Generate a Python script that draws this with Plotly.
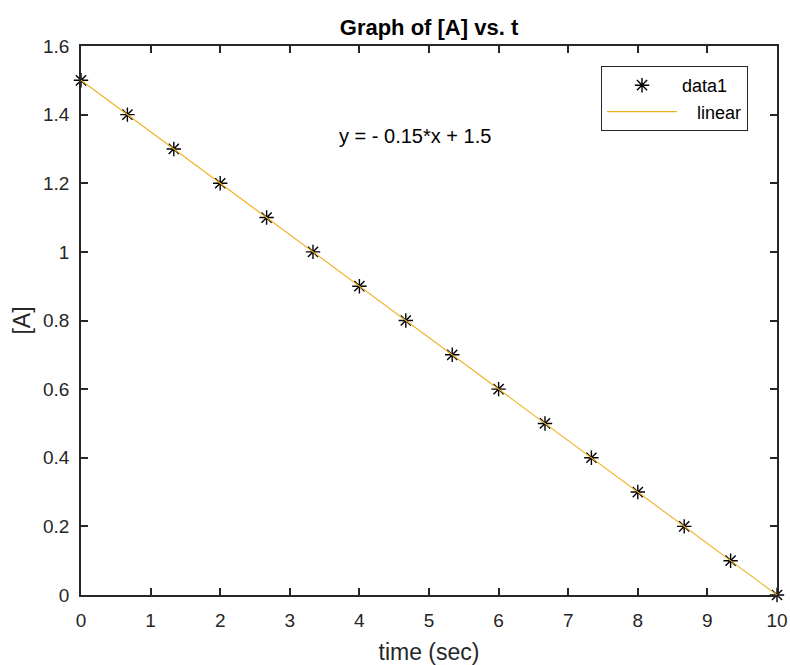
import plotly.graph_objects as go

time_sec = [0, 0.6667, 1.3333, 2, 2.6667, 3.3333, 4, 4.6667, 5.3333, 6,
            6.6667, 7.3333, 8, 8.6667, 9.3333, 10]
conc_A = [1.5, 1.4, 1.3, 1.2, 1.1, 1.0, 0.9, 0.8, 0.7, 0.6,
          0.5, 0.4, 0.3, 0.2, 0.1, 0.0]
fit_x = [0, 10]
fit_y = [1.5, 0.0]
x_ticks = [0, 1, 2, 3, 4, 5, 6, 7, 8, 9, 10]
y_ticks = [0, 0.2, 0.4, 0.6, 0.8, 1, 1.2, 1.4, 1.6]
y_tick_text = ["0", "0.2", "0.4", "0.6", "0.8", "1", "1.2", "1.4", "1.6"]

axc = "#262626"
font = "Liberation Sans, Arial, sans-serif"

fig = go.Figure()
fig.add_trace(go.Scatter(
    x=time_sec, y=conc_A, mode="markers", name="data1",
    marker=dict(symbol="asterisk-open", size=12, color="black",
                line=dict(color="black", width=1.4)),
    cliponaxis=False))
fig.add_trace(go.Scatter(
    x=fit_x, y=fit_y, mode="lines", name="&nbsp;&nbsp;&nbsp;linear",
    line=dict(color="#EDB120", width=1.1)))

fig.add_annotation(x=3.68, y=1.338, xref="x", yref="y", text="y = - 0.15*x + 1.5",
                   showarrow=False, xanchor="left", yanchor="middle",
                   font=dict(family=font, size=20, color="black"))

axis_common = dict(showgrid=False, zeroline=False, showline=True, mirror="ticks",
                   linecolor=axc, linewidth=1.5, ticks="inside", ticklen=7,
                   tickcolor=axc, tickwidth=1.5, automargin=False,
                   tickfont=dict(family=font, size=19, color=axc))

fig.update_layout(
    template="none",
    width=790, height=665,
    margin=dict(l=81, r=13, t=46, b=70, autoexpand=False),
    paper_bgcolor="white", plot_bgcolor="white",
    title=dict(text="<b>Graph of [A] vs. t</b>", x=0.5, xref="paper",
               xanchor="center", y=1 - 27 / 665, yref="container", yanchor="middle",
               font=dict(family=font, size=22, color="black")),
    xaxis=dict(range=[0, 10], tickvals=x_ticks, ticklabelstandoff=7,
               title=dict(text="time (sec)", font=dict(family=font, size=23, color=axc),
                          standoff=14),
               **axis_common),
    yaxis=dict(range=[0, 1.6], tickvals=y_ticks, ticktext=y_tick_text,
               ticklabelstandoff=6,
               title=dict(text="[A]", font=dict(family=font, size=23, color=axc),
                          standoff=6),
               **axis_common),
    legend=dict(x=(601 - 81) / 696, y=(595 - 66) / 549, xanchor="left", yanchor="top",
                bgcolor="white", bordercolor="#262626", borderwidth=1,
                font=dict(family=font, size=18, color="black"),
                itemwidth=70, tracegroupgap=0),
    showlegend=True,
)

fig.write_html("out.html")
